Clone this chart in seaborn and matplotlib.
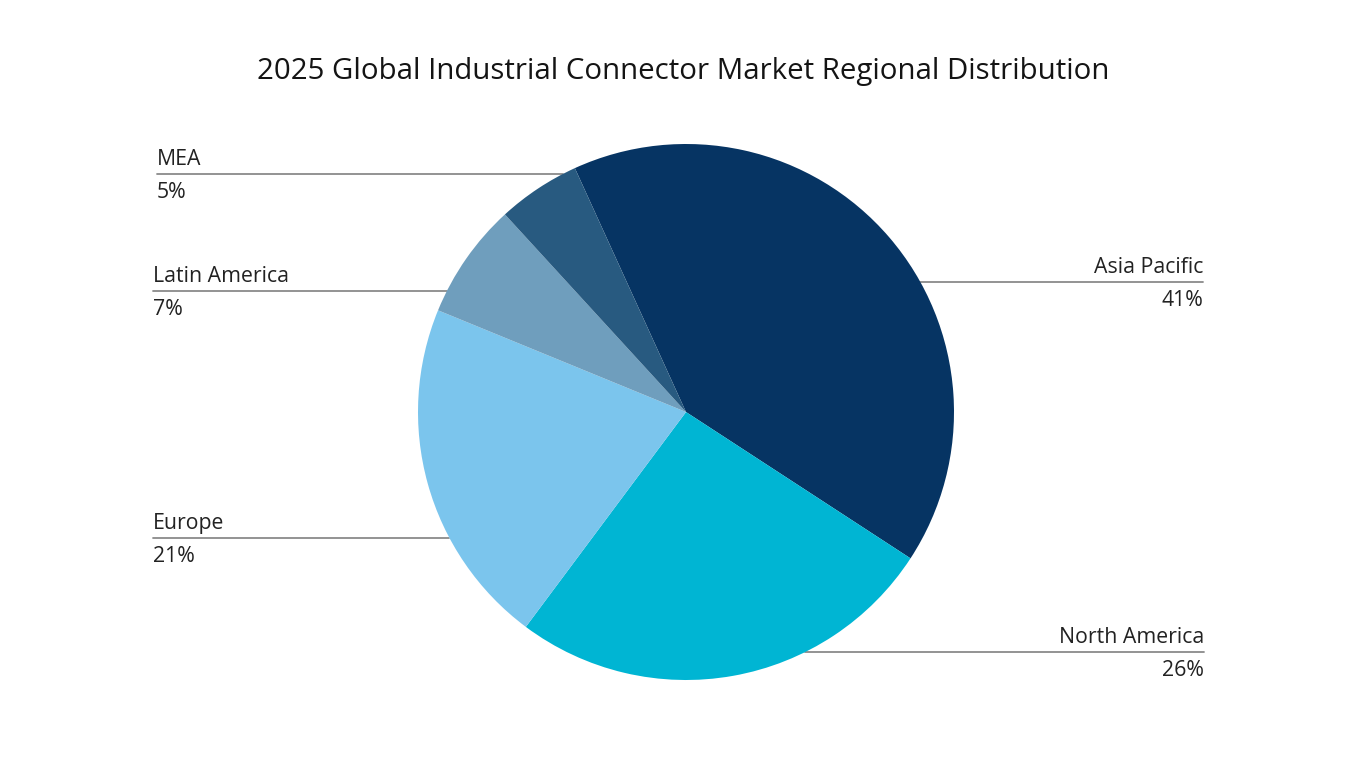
import numpy as np
import matplotlib.pyplot as plt
import seaborn as sns

# data
regions = ['Asia Pacific', 'North America', 'Europe', 'Latin America', 'MEA']
shares = [41, 26, 21, 7, 5]
colors = ['#063463', '#00b5d3', '#7bc5ed', '#6f9ebd', '#285a80']

# label placement: side, text x, leader line y (pixels from top)
label_layout = {
    'Asia Pacific': ('right', 1203, 282),
    'North America': ('right', 1204, 652),
    'Europe': ('left', 153, 538),
    'Latin America': ('left', 153, 291),
    'MEA': ('left', 157, 174),
}

sns.set_theme(style='white')
plt.rcParams['font.family'] = ['Open Sans', 'DejaVu Sans']

W, H = 1366, 768
fig = plt.figure(figsize=(W / 100, H / 100), dpi=100)
fig.patch.set_facecolor('white')
ax = fig.add_axes([0, 0, 1, 1])

cx, cy, r = 686, H - 412, 268
ax.pie(shares, colors=colors, startangle=114.5, counterclock=False,
       center=(cx, cy), radius=r, wedgeprops=dict(linewidth=0))
ax.set_xlim(0, W)
ax.set_ylim(0, H)
ax.set_aspect('equal')
ax.axis('off')

for name, share in zip(regions, shares):
    side, tx, ly = label_layout[name]
    y = H - ly
    dx = np.sqrt(max(r ** 2 - (y - cy) ** 2, 0))
    xe = cx - dx if side == 'left' else cx + dx
    ax.plot([tx, xe], [y, y], color='#8a8a8a', lw=1.3, zorder=0)
    ha = 'left' if side == 'left' else 'right'
    ax.text(tx, y + 4, name, ha=ha, va='bottom', fontsize=15.3, color='#222222')
    ax.text(tx, y - 8, f'{share}%', ha=ha, va='top', fontsize=15.3, color='#222222')

fig.text(0.5, 1 - 72 / H, '2025 Global Industrial Connector Market Regional Distribution',
         ha='center', va='center', fontsize=21.2, color='#141414')

fig.savefig('out.png', dpi=100, facecolor='white')
